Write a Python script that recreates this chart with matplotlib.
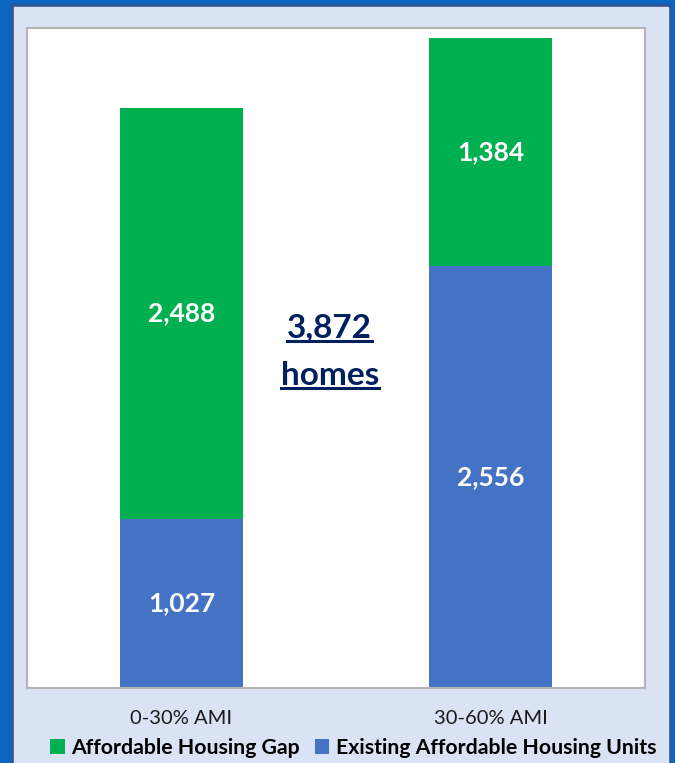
import matplotlib.pyplot as plt
import numpy as np
from matplotlib.patches import Rectangle
from matplotlib.lines import Line2D

categories = ["0-30% AMI", "30-60% AMI"]
existing_units = [1027, 2556]
housing_gap = [2488, 1384]

plt.rcParams["font.family"] = ["Lato", "DejaVu Sans"]

blue = "#4472C4"
green = "#00B050"
navy = "#002060"

W, H = 675, 763
fig = plt.figure(figsize=(W / 100, H / 100), dpi=100, facecolor="#0B66C2")

# frame: dark line and light panel
fig.patches.append(Rectangle((11 / W, -0.1), 659 / W, (763 - 4) / H + 0.1,
                             transform=fig.transFigure, color="#2F5597", zorder=-10))
fig.patches.append(Rectangle((13.5 / W, -0.1), 654.5 / W, (763 - 7) / H + 0.1,
                             transform=fig.transFigure, color="#DAE3F3", zorder=-9))

ax = fig.add_axes([27 / W, (H - 688) / H, 618 / W, 660 / H])
ax.set_facecolor("white")

x = np.arange(len(categories))
b1 = ax.bar(x, existing_units, width=0.4, color=blue, label="Existing Affordable Housing Units")
b2 = ax.bar(x, housing_gap, width=0.4, bottom=existing_units, color=green,
            label="Affordable Housing Gap")

for i in range(len(categories)):
    ax.text(x[i], existing_units[i] / 2, f"{existing_units[i]:,}", ha="center", va="center",
            color="white", fontsize=19, fontweight="bold")
    ax.text(x[i], existing_units[i] + housing_gap[i] / 2, f"{housing_gap[i]:,}",
            ha="center", va="center", color="white", fontsize=19, fontweight="bold")

ax.set_xlim(-0.5, 1.5)
ax.set_ylim(0, 4000)
ax.set_yticks([])
ax.set_xticks(x)
ax.set_xticklabels(categories, fontsize=14.5, color="#1a1a1a")
ax.tick_params(axis="x", length=0, pad=16)
for s in ax.spines.values():
    s.set_color("#B4B4B4")
    s.set_linewidth(1.5)

total_gap = sum(housing_gap)
t1 = ax.text(0.49, 0.545, f"{total_gap:,}", transform=ax.transAxes, ha="center", va="center",
             color=navy, fontsize=24, fontweight="bold")
t2 = ax.text(0.49, 0.474, "homes", transform=ax.transAxes, ha="center", va="center",
             color=navy, fontsize=24, fontweight="bold")

# underline the two lines of text
fig.canvas.draw()
r = fig.canvas.get_renderer()
for t in (t1, t2):
    bb = t.get_window_extent(r)
    y = bb.y0 + 2
    fig.lines.append(Line2D([bb.x0 / W, bb.x1 / W], [y / H, y / H], transform=fig.transFigure,
                            color=navy, linewidth=2.2))

fig.legend(handles=[b2, b1], loc="center", bbox_to_anchor=(0.523, 15 / H), ncol=2, frameon=False,
           prop={"size": 15.3, "weight": "bold"}, handlelength=0.7, handleheight=0.7,
           handletextpad=0.3, columnspacing=0.7)

fig.savefig("out.png", dpi=100, facecolor=fig.get_facecolor())
